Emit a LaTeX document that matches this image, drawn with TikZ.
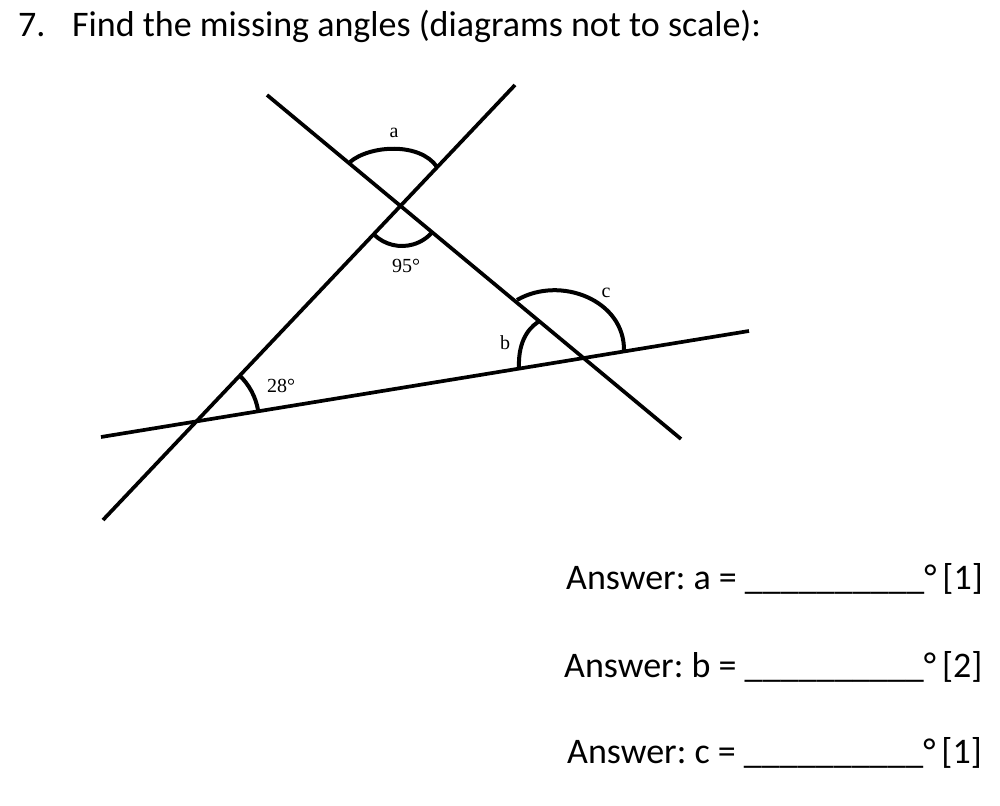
\documentclass[tikz,border=0pt]{standalone}
\usepackage{fontspec}
\setmainfont{Carlito}
\newfontfamily\seriffont{Liberation Serif}
\frenchspacing
\begin{document}
\begin{tikzpicture}[x=1pt,y=-1pt,
  geoline/.style={line width=3.7pt},
  anglearc/.style={line width=4pt},
  anglelabel/.style={font=\seriffont\fontsize{20}{22}\selectfont, inner sep=0pt},
  bodytext/.style={font=\fontsize{36}{40}\selectfont, inner sep=0pt, anchor=base west}]
\useasboundingbox (0,0) rectangle (1000,805);
% title
\node[bodytext] (num) at (18,37) {7.};
\node[bodytext] (title) at (72,37) {Find the missing angles (diagrams not to scale):};
% line end points
\coordinate (l1s) at (267,95);
\coordinate (l1e) at (681,439);
\coordinate (l2s) at (103,520);
\coordinate (l2e) at (515,85);
\coordinate (l3s) at (101,437);
\coordinate (l3e) at (749,331);
\draw[geoline] (l1s) -- (l1e);
\draw[geoline] (l2s) -- (l2e);
\draw[geoline] (l3s) -- (l3e);
% intersections
\coordinate (P) at (402,206);
\coordinate (Q) at (196,421);
\coordinate (R) at (583,357);
% arcs
\draw[anglearc] (350,162) .. controls (370,145) and (420,142) .. (437,167);
\draw[anglearc] ([shift={(134:40)}]P) arc[start angle=134, end angle=40, radius=40];
\draw[anglearc] ([shift={(-47:63)}]Q) arc[start angle=-47, end angle=-9.3, radius=63];
\draw[anglearc] (519,368) .. controls (518,345) and (526,330) .. (538,322);
\draw[anglearc] (624,351) .. controls (625,300) and (560,275) .. (517,300);
% labels
\node[anglelabel] (la) at (394,133) {a};
\node[anglelabel] (l95) at (406,266) {95°};
\node[anglelabel] (lc) at (606,293) {c};
\node[anglelabel] (lb) at (505,343) {b};
\node[anglelabel] (l28) at (281,386) {28°};
% answers
\node[bodytext] (ansa) at (566,589) {Answer: a = \_\_\_\_\_\_\_\_\_\_°\,[1]};
\node[bodytext] (ansb) at (564,677) {Answer: b = \_\_\_\_\_\_\_\_\_\_°\,[2]};
\node[bodytext] (ansc) at (567,763) {Answer: c = \_\_\_\_\_\_\_\_\_\_°\,[1]};
\end{tikzpicture}
\end{document}
